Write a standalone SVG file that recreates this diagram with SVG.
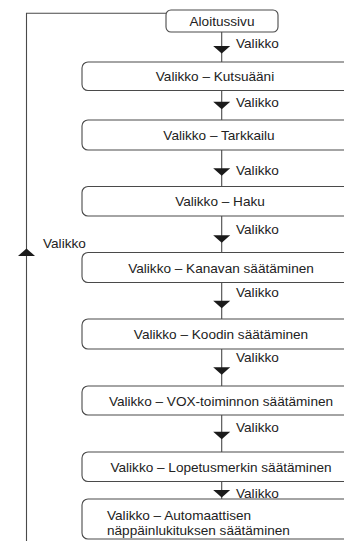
<svg xmlns="http://www.w3.org/2000/svg" xmlns:xlink="http://www.w3.org/1999/xlink" width="344" height="541" viewBox="0 0 344 541">
<style>
.box{fill:#fff;stroke:#4a4a4a;stroke-width:1.1}
.ln{fill:none;stroke:#4a4a4a;stroke-width:1.1}
.ah{fill:#1a1a1a}
text{font-family:"Liberation Sans",Arial,sans-serif;font-size:13.6px;fill:#222}
.c{text-anchor:middle}
</style>
<defs>
<path id="down" d="M-8.5,0 L8.5,0 L0,7.5 Z"/>
<path id="up" d="M-8.5,0 L8.5,0 L0,-7.5 Z"/>
</defs>
<rect width="344" height="541" fill="#fff"/>
<g id="connectors">
<path class="ln" d="M166,13.3 H26.5 V541"/>
<use href="#up" class="ah" x="26.5" y="256"/>
<text x="43" y="248">Valikko</text>
<path class="ln" d="M221.7,32 V62 M221.7,90.5 V120 M221.7,150 V186.5 M221.7,216 V252.5 M221.7,282.5 V319 M221.7,349 V386 M221.7,415 V452 M221.7,481.5 V499"/>
<use href="#down" class="ah" x="221.7" y="46"/>
<use href="#down" class="ah" x="221.7" y="101.7"/>
<use href="#down" class="ah" x="221.7" y="168.3"/>
<use href="#down" class="ah" x="221.7" y="235.2"/>
<use href="#down" class="ah" x="221.7" y="300.8"/>
<use href="#down" class="ah" x="221.7" y="367.3"/>
<use href="#down" class="ah" x="221.7" y="431.8"/>
<use href="#down" class="ah" x="221.7" y="490"/>
<text x="236" y="48">Valikko</text>
<text x="236" y="107">Valikko</text>
<text x="236" y="175">Valikko</text>
<text x="236" y="234">Valikko</text>
<text x="236" y="297">Valikko</text>
<text x="236" y="362">Valikko</text>
<text x="236" y="432">Valikko</text>
<text x="236" y="498">Valikko</text>
</g>
<g id="n0"><rect class="box" x="166" y="10" width="112" height="22" rx="5"/><text class="c" x="222" y="25.5">Aloitussivu</text></g>
<g id="n1"><rect class="box" x="82" y="62" width="290" height="28.5" rx="6"/><text class="c" x="215" y="81">Valikko – Kutsuääni</text></g>
<g id="n2"><rect class="box" x="82" y="120" width="290" height="30" rx="6"/><text class="c" x="219" y="140">Valikko – Tarkkailu</text></g>
<g id="n3"><rect class="box" x="82" y="186.5" width="290" height="29.5" rx="6"/><text class="c" x="220" y="206">Valikko – Haku</text></g>
<g id="n4"><rect class="box" x="82" y="252.5" width="290" height="30" rx="6"/><text class="c" x="221" y="272.5">Valikko – Kanavan säätäminen</text></g>
<g id="n5"><rect class="box" x="82" y="319" width="290" height="30" rx="6"/><text class="c" x="221" y="339">Valikko – Koodin säätäminen</text></g>
<g id="n6"><rect class="box" x="82" y="386" width="290" height="29" rx="6"/><text class="c" x="221" y="405.5">Valikko – VOX-toiminnon säätäminen</text></g>
<g id="n7"><rect class="box" x="82" y="452" width="290" height="29.5" rx="6"/><text class="c" x="221" y="471.5">Valikko – Lopetusmerkin säätäminen</text></g>
<g id="n8"><rect class="box" x="82" y="499" width="290" height="40" rx="6"/><text x="107" y="519.5">Valikko – Automaattisen</text><text x="107" y="534.5">näppäinlukituksen säätäminen</text></g>
</svg>
